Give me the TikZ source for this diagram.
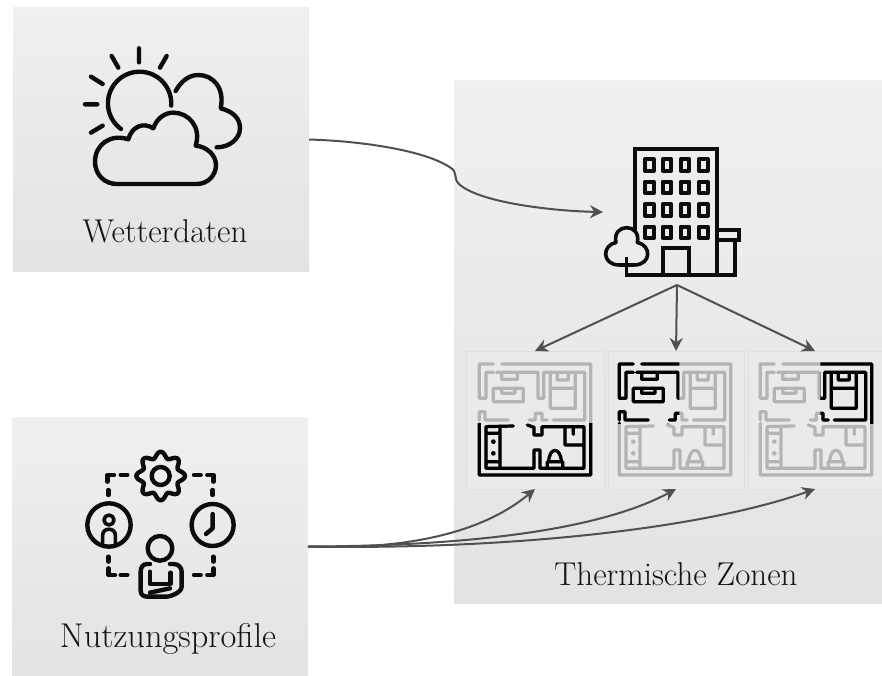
\documentclass[tikz,border=0pt]{standalone}
\usepackage{fontspec}
\usetikzlibrary{arrows.meta}
\definecolor{arrowgrey}{HTML}{505050}
\definecolor{planoff}{HTML}{B4B4B4}
\definecolor{cellfill}{HTML}{EAEAEA}
\definecolor{cellline}{HTML}{E0E0E0}
\definecolor{icon}{HTML}{0C0C0C}
\tikzset{
  panel/.style={shade,top color=#1,bottom color=black!11,inner sep=0pt,outer sep=0pt,anchor=north west},
  panel/.default={black!6},
  anchorbox/.style={inner sep=0pt,outer sep=0pt},
  cell/.style={fill=cellfill,draw=cellline,line width=0.8pt,inner sep=0pt,outer sep=0pt},
  label/.style={font=\fontsize{33}{36}\selectfont,text=black!92},
  flow/.style={draw=arrowgrey,line width=2pt,-{Stealth[length=13pt,width=13pt]}},
  iconline/.style={draw=icon,line width=4.4pt,line cap=round,line join=round},
  planline/.style={line width=3.2pt,line cap=round,line join=round},
  u/.style={x=1pt,y=1pt,xscale=0.3333,yscale=-0.3333}
}
\newcommand{\planpaths}[1]{%
  \draw[planline,draw=#1]
    (100,72)--(58,72)--(58,175)--(78,175)--(78,97)--(100,97)
    (125,72)--(392,72)--(392,405)--(58,405)--(58,250)
    (392,250)--(392,72)
    (110,97)--(234,97)--(234,175)--(251,175)--(251,97)--(374,97)--(374,240)--(280,240)
    (100,145)--(100,185)--(190,185)--(190,145)--cycle
    (125,145)--(125,160)--(165,160)--(165,145)
    (125,97)--(125,118)--(172,118)--(172,97)
    (271,97)--(271,205)--(346,205)--(346,97)
    (271,145)--(346,145)
    (292,100)--(292,120)--(325,120)--(325,100)
    (58,240)--(58,215)--(75,215)--(75,240)--(145,240)
    (208,240)--(226,240)--(226,220)--(246,220)--(246,240)--(262,240)
    (78,260)--(160,258)
    (78,260)--(78,385)--(222,385)--(222,330)--(240,330)--(240,385)--(372,385)--(372,260)--(246,260)--(246,285)--(222,285)--(222,262)--(202,255)
    (120,262)--(120,385)
    (78,280)--(120,280)
    (78,365)--(120,365)
    (315,262)--(315,315)--(372,315)
    (340,262)--(340,283)
    (262,385)--(262,365)--(308,365)--(308,385)
    (266,365)..controls(268,320)and(302,320)..(304,365);
  \fill[#1] (100,305) circle (7) (100,340) circle (7);
}
\newcommand{\planicon}[3]{%
  \begin{scope}[shift={(#1,340)},u]
    \planpaths{planoff}
    \begin{scope}
      \clip #2;
      \planpaths{#3}
    \end{scope}
  \end{scope}
}
\begin{document}
\begin{tikzpicture}[x=1pt,y=-1pt]
\useasboundingbox (0,0) rectangle (882,676);
\fill[white] (0,0) rectangle (882,676);
% panels
\node[panel,minimum width=296pt,minimum height=263pt] (wetter) at (13,8) {};
\node[panel,minimum width=296pt,minimum height=259pt] (nutz) at (12,417) {};
\node[panel,minimum width=428pt,minimum height=522pt] (zonen) at (454,81) {};
% plan cells
\node[cell,minimum width=138pt,minimum height=138pt] (planA) at (535,420) {};
\node[cell,minimum width=136pt,minimum height=138pt] (planB) at (676,420) {};
\node[cell,minimum width=134pt,minimum height=138pt] (planC) at (815,420) {};
\node[anchorbox,minimum width=148pt,minimum height=146pt] (building) at (677,212) {};
% plans
\planicon{460}{(0,250) rectangle (500,500)}{black}
\planicon{600}{(0,0) rectangle (238,250)}{black}
\planicon{741}{(238,0) rectangle (500,250)}{black}
% weather icon
\begin{scope}[shift={(60,30)},u]
  \draw[iconline]
    (237,55)--(237,97) (155,78)--(175,113) (320,78)--(300,113)
    (93,140)--(128,162) (75,223)--(112,223) (93,308)--(128,287);
  \draw[iconline] (183,297) arc[start angle=126,end angle=364,radius=95];
  \draw[iconline] (347,183) .. controls (365,150) and (390,135) .. (415,135)
    .. controls (460,135) and (495,175) .. (482,235)
    .. controls (520,245) and (540,265) .. (540,295)
    .. controls (540,325) and (510,352) .. (470,352);
  \draw[iconline] (170,462)--(410,462)
    .. controls (445,462) and (468,435) .. (468,405)
    .. controls (468,375) and (440,350) .. (407,347)
    .. controls (425,290) and (385,248) .. (340,248)
    .. controls (315,248) and (290,265) .. (280,295)
    .. controls (250,275) and (215,290) .. (205,328)
    .. controls (150,310) and (105,345) .. (105,395)
    .. controls (105,435) and (135,462) .. (170,462) -- cycle;
\end{scope}
% building icon
\begin{scope}[shift={(590,130)},u]
  \draw[iconline,line width=3.8pt,line cap=butt,line join=miter]
    (135,300)--(135,57)--(380,57)--(380,435)
    (110,435)--(435,435)--(435,330)
    (380,300)--(448,300)--(448,330)--(380,330)
    (218,435)--(218,355)--(298,355)--(298,435);
  \foreach \wx in {178,231,285,340}
    \foreach \wy in {105,172,240,307}
      \draw[iconline,line width=4.2pt,line cap=butt] (\wx-13,\wy-17) rectangle (\wx+13,\wy+17);
  \draw[iconline,line width=3.6pt] (88,405)
    .. controls (35,405) and (35,345) .. (78,338)
    .. controls (65,278) and (155,278) .. (142,338)
    .. controls (185,345) and (185,405) .. (132,405) -- (88,405);
  \draw[iconline,line width=3.6pt,line cap=butt] (110,380)--(110,440);
\end{scope}
% people icon
\begin{scope}[shift={(70,440)},u]
  \draw[iconline,smooth] plot[domain=0:360,samples=97] ({272+(64+9*cos(8*\x))*cos(\x)},{108+(64+9*cos(8*\x))*sin(\x)}) -- cycle;
  \draw[iconline] (272,108) circle (27);
  \draw[iconline]
    (112,125)--(112,105)--(132,105) (152,105)--(172,105) (115,150)--(115,165)
    (372,105)--(392,105) (412,105)--(430,105)--(430,125) (428,150)--(428,165)
    (115,350)--(115,365) (115,385)--(115,405)--(135,405) (152,405)--(172,405)
    (430,350)--(430,365) (430,385)--(430,405)--(412,405) (372,405)--(392,405);
  \draw[iconline] (117,255) circle (65);
  \draw[iconline,line width=3.6pt] (117,240) circle (15);
  \draw[iconline,line width=3.6pt] (98,312)--(98,285) .. controls (98,262) and (136,262) .. (136,285)--(136,312);
  \draw[iconline] (428,255) circle (63);
  \draw[iconline] (428,222)--(428,265)--(408,282);
  \draw[iconline] (270,325) circle (37);
  \draw[iconline] (240,372)--(232,372) .. controls (218,372) and (212,382) .. (212,395)
    --(212,452) .. controls (212,464) and (220,470) .. (232,470)
    --(290,470) .. controls (300,470) and (335,458) .. (335,440)
    --(335,395) .. controls (335,382) and (325,372) .. (310,372)--(300,372);
  \draw[iconline] (240,395)--(240,432)--(302,432)--(302,398);
  \draw[iconline] (240,458)--(300,445);
\end{scope}
% labels
\node[label,anchorbox] (wlabel) at (165,231) {Wetterdaten};
\node[label,anchorbox,font=\fontsize{34.4}{37}\selectfont] (nlabel) at (168,639) {Nutzungsprofile};
\node[label,anchorbox] (zlabel) at (676,574) {Thermische Zonen};
% connectors
\draw[flow] (wetter.east) .. controls (360,141) and (425,150) .. (451,168)
  .. controls (458,173) and (453,178) .. (459,184)
  .. controls (478,202) and (550,211) .. (building.west);
\draw[flow] (building.south) -- (planA.north);
\draw[flow] (building.south) -- (planB.north);
\draw[flow] (building.south) -- (planC.north);
\draw[flow] (nutz.east) .. controls (400,550) and (480,535) .. (planA.south);
\draw[flow] (nutz.east) .. controls (470,546) and (600,530) .. (planB.south);
\draw[flow] (nutz.east) .. controls (500,550) and (700,530) .. (planC.south);
\end{tikzpicture}
\end{document}
